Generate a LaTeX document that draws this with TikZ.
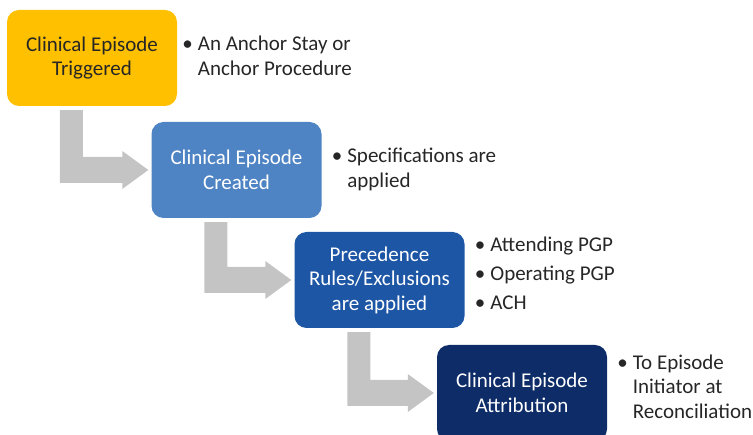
\documentclass[tikz,border=0pt]{standalone}
\usepackage{fontspec}
\setmainfont{Carlito}
\usetikzlibrary{calc}
\definecolor{gold}{HTML}{FFC000}
\definecolor{midblue}{HTML}{4F84C4}
\definecolor{royal}{HTML}{1D56A5}
\definecolor{navy}{HTML}{0D2C68}
\definecolor{arrowgray}{HTML}{C4C4C4}
\definecolor{txt}{HTML}{262626}
\tikzset{
  stepbox/.style={rounded corners=12pt, minimum width=170pt, minimum height=96pt,
    align=center, inner sep=0pt, font=\fontsize{21}{24.5}\selectfont},
  bullets/.style={anchor=west, inner sep=0pt, text=txt, font=\fontsize{21}{24.5}\selectfont},
  bendarrow/.style={fill=arrowgray}
}
\newcommand{\bendarr}[2]{%
  \fill[bendarrow] let \p1=(#1.south west), \p2=(#2.west) in
    (\x1+53pt,\y1-4pt) -- (\x1+76pt,\y1-4pt) -- (\x1+76pt,\y2+13pt) --
    (\x2-29pt,\y2+13pt) -- (\x2-29pt,\y2+19pt) -- (\x2-3pt,\y2) --
    (\x2-29pt,\y2-19pt) -- (\x2-29pt,\y2-13pt) -- (\x1+53pt,\y2-13pt) -- cycle;}
\begin{document}
\begin{tikzpicture}[x=1pt,y=-1pt]
\useasboundingbox (0,0) rectangle (753,435);
\clip (0,0) rectangle (753,435);
\node[stepbox, fill=gold, text=txt] (b1) at (92,58) {Clinical Episode\\Triggered};
\node[stepbox, fill=midblue, text=white] (b2) at (236.5,170) {Clinical Episode\\Created};
\node[stepbox, fill=royal, text=white] (b3) at (379.5,280) {Precedence\\Rules/Exclusions\\are applied};
\node[stepbox, fill=navy, text=white] (b4) at (522,393) {Clinical Episode\\Attribution};
\bendarr{b1}{b2}
\bendarr{b2}{b3}
\bendarr{b3}{b4}
\node[bullets] (t1) at ($(b1.east)+(5,0)$) {\begin{tabular}{@{}l@{\hspace{5pt}}l@{}}\textbullet & An Anchor Stay or\\ & Anchor Procedure\end{tabular}};
\node[bullets] (t2) at ($(b2.east)+(10,0)$) {\begin{tabular}{@{}l@{\hspace{5pt}}l@{}}\textbullet & Specifications are\\ & applied\end{tabular}};
\node[bullets] (t3) at ($(b3.east)+(10,-4)$) {\begin{tabular}{@{}l@{\hspace{5pt}}l@{}}\textbullet & Attending PGP\\[4.5pt]\textbullet & Operating PGP\\[4.5pt]\textbullet & ACH\end{tabular}};
\node[bullets] (t4) at ($(b4.east)+(10,-4)$) {\begin{tabular}{@{}l@{\hspace{5pt}}l@{}}\textbullet & To Episode\\ & Initiator at\\ & Reconciliation\end{tabular}};
\end{tikzpicture}
\end{document}
